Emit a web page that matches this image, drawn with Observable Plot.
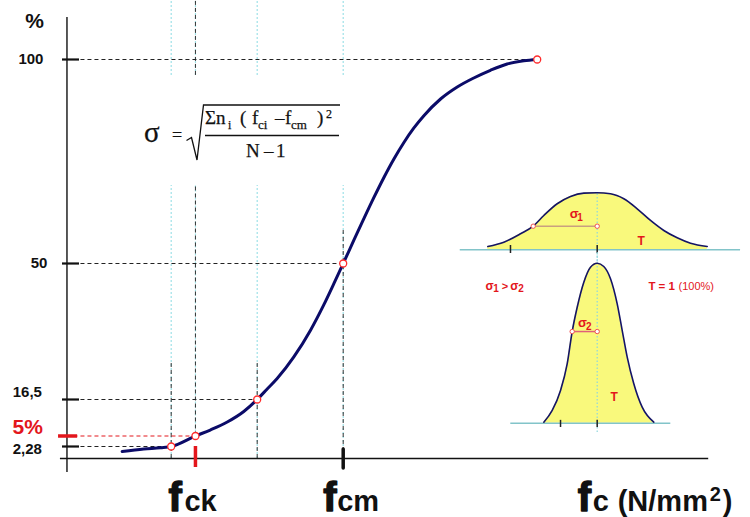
<!DOCTYPE html>
<html>
<head>
<meta charset="utf-8">
<script src="https://cdn.jsdelivr.net/npm/d3@7"></script>
<script src="https://cdn.jsdelivr.net/npm/@observablehq/plot@0.6"></script>
<style>
  html, body { margin: 0; padding: 0; background: #fff; }
  #chart { position: relative; width: 750px; height: 517px; overflow: hidden; background: #fff; }
  #chart > svg { position: absolute; overflow: visible; }
</style>
</head>
<body>
<div id="chart"></div>
<script>
const SANS = "'Liberation Sans', Arial, Helvetica, sans-serif";
const SERIF = "'Liberation Serif', 'Times New Roman', serif";
const NAVY = "#0b0b68", RED = "#e3161c", CYAN = "#9ee2e8", YELLOW = "#f9f97c", BASE = "#82c4c9";

// Cumulative share of results (%) against compressive strength fc (N/mm²)
const fcValues = [17.15, 18.41, 19.38, 20, 21.41, 22.27, 23.26, 24.22, 25, 25.58, 26.16, 27.13,
  28.10, 28.87, 29.45, 30, 30.62, 31.20, 31.78, 32.36, 32.94, 33.52, 34.10, 34.69, 35.66,
  36.63, 37.59, 38.56, 39.53, 40.50, 41.28];
const shareValues = [1.33, 1.80, 2.05, 2.28, 5, 6.89, 9.41, 12.72, 16.5, 19.09, 21.67, 26.99,
  33.57, 39.80, 44.97, 50, 55.71, 60.98, 66.13, 71.03, 75.56, 79.61, 83.16, 86.23, 90.32,
  93.26, 95.47, 97.35, 98.90, 99.68, 100];

// Characteristic points of the curve and their tick labels
const markFc = [20, 21.41, 25, 30, 41.28];
const markShare = [2.28, 5, 16.5, 50, 100];
const markLabels = ["2,28", "5%", "16,5", "50", "100"];

// Named strengths on the abscissa
const fck = 21.41, fcm = 30;

// Axis extents
const axisFc = 13.94, axisFcStart = 13.56, axisFcEnd = 51.25;
const axisShareTop = 110.3, axisShareBottom = -2.66;

// Guide segments: [fc, from %, to %]
const lightGuides = [[20, 96.1, 114.5], [21.41, 96.1, 114.5], [25, 96.1, 114.5], [30, 96.1, 114.5],
  [20, 0, 69.1], [21.41, 5, 69.1], [25, 0, 69.1], [30, 0, 69.1]];
const darkGuides = [[20, 0, 26.1], [25, 0, 26.1], [30, 0, 58.8], [21.41, 5, 69.1], [21.41, 96.1, 114.5]];

// Wide distribution (σ1) and narrow distribution (σ2), x in σ1 units around the mean
const wideX = [-1.709, -1.459, -1.198, -1.0, -0.834, -0.625, -0.417, -0.209, 0, 0.208, 0.416,
  0.625, 0.833, 1.041, 1.25, 1.458, 1.719];
const wideY = [0.023, 0.053, 0.112, 0.165, 0.240, 0.322, 0.373, 0.396, 0.399, 0.392, 0.357,
  0.287, 0.205, 0.135, 0.084, 0.046, 0.023];
const narrowX = [-0.834, -0.703, -0.573, -0.469, -0.391, -0.3125, -0.209, -0.105, 0, 0.103,
  0.208, 0.3125, 0.391, 0.469, 0.572, 0.703, 0.884];
const narrowY = [0.007, 0.089, 0.229, 0.415, 0.641, 0.811, 0.986, 1.091, 1.119, 1.096, 1.010,
  0.835, 0.648, 0.462, 0.276, 0.112, 0.007];
const sigma1 = 1, sigma2 = 0.391;

const curve = fcValues.map((f, i) => ({fc: f, p: shareValues[i]}));
const marks = markFc.map((f, i) => ({fc: f, p: markShare[i], label: markLabels[i], red: markShare[i] === 5}));
const seg = g => g.map(([fc, a, b]) => ({fc, a, b}));

// The share axis is drawn schematically: its low end is stretched
const shareStretch = d3.scaleLinear().domain([0, ...markShare]).range([0, 12, 22.5, 59, 195, 399]);

// share-axis labels: offsets and size
const shareLabelStyle = {
  "100": {dx: -23.5, dy: 0, size: 15}, "50": {dx: -19.5, dy: 0, size: 15},
  "16,5": {dx: -25, dy: -7, size: 15}, "5%": {dx: -24, dy: -8.5, size: 21}, "2,28": {dx: -25, dy: 3, size: 15}
};
// abscissa labels: anchor value, text, size, offsets
const fcLabelParts = [
  {x: fck, t: "f", s: 40, dx: -27, dy: -7}, {x: fck, t: "ck", s: 29, dx: -11, dy: -7},
  {x: fcm, t: "f", s: 40, dx: -20, dy: -7}, {x: fcm, t: "cm", s: 29, dx: -6, dy: -7},
  {x: axisFcEnd, t: "f", s: 40, dx: -131, dy: -7}, {x: axisFcEnd, t: "c", s: 29, dx: -116, dy: -7},
  {x: axisFcEnd, t: "(N/mm", s: 29, dx: -91, dy: -7}, {x: axisFcEnd, t: "2", s: 20, dx: 1, dy: -17},
  {x: axisFcEnd, t: ")", s: 29, dx: 14, dy: -7}
];

const chart = document.getElementById("chart");

const main = Plot.plot({
  width: 750, height: 517, margin: 0,
  style: {background: "transparent", fontFamily: SANS, overflow: "visible"},
  x: {domain: [10, 50], range: [-1.3, 686.7], axis: null},
  y: {transform: shareStretch, domain: [0, 399], range: [458, 59], axis: null},
  marks: [
    Plot.ruleX(seg(lightGuides), {x: "fc", y1: "a", y2: "b", stroke: CYAN, strokeWidth: 1.2, strokeDasharray: "2,2"}),
    Plot.ruleX(seg(darkGuides), {x: "fc", y1: "a", y2: "b", stroke: "#333", strokeWidth: 1, strokeDasharray: "4,3"}),
    Plot.ruleY(marks.filter(d => !d.red), {y: "p", x1: () => axisFc, x2: "fc", stroke: "#222", strokeWidth: 1, strokeDasharray: "4,3"}),
    Plot.ruleY(marks.filter(d => d.red), {y: "p", x1: () => axisFc, x2: "fc", stroke: RED, strokeWidth: 1, strokeDasharray: "4,3"}),
    // axes
    Plot.ruleX([axisFc], {y1: () => axisShareBottom, y2: () => axisShareTop, stroke: "#111", strokeWidth: 1.4}),
    Plot.ruleY([0], {x1: () => axisFcStart, x2: () => axisFcEnd, stroke: "#111", strokeWidth: 1.3}),
    // tick stubs on the share axis
    Plot.ruleY(marks.filter(d => !d.red), {y: "p", x1: () => 13.68, x2: () => 14.67, stroke: "#111", strokeWidth: 2.2}),
    Plot.ruleY(marks.filter(d => d.red), {y: "p", x1: () => 13.45, x2: () => 14.56, stroke: RED, strokeWidth: 3.5}),
    // ticks on the strength axis
    Plot.ruleX([fck], {y1: () => 2.28, y2: () => -1.71, stroke: RED, strokeWidth: 3.5}),
    Plot.ruleX([fcm], {y1: () => 1.71, y2: () => -1.9, stroke: "#111", strokeWidth: 3.5, strokeLinecap: "round"}),
    // cumulative curve
    Plot.line(curve, {x: "fc", y: "p", stroke: NAVY, strokeWidth: 3, curve: "monotone-x"}),
    Plot.dot(marks, {x: "fc", y: "p", r: 3.5, fill: "#fff", stroke: "#ff2a2a", strokeWidth: 1.3}),
    // share labels
    ...marks.map(d => {
      const st = shareLabelStyle[d.label];
      return Plot.text([d], {x: () => axisFc, y: "p", text: "label", textAnchor: "end", lineAnchor: "middle",
        dx: st.dx, dy: st.dy, fontSize: st.size, fontWeight: "bold", fill: d.red ? RED : "#111"});
    }),
    Plot.text(["%"], {x: () => axisFc, y: () => axisShareTop, text: d => d, textAnchor: "end", lineAnchor: "middle",
      dx: -23, dy: 4, fontSize: 21, fontWeight: "bold", fill: "#111"}),
    // strength labels
    ...fcLabelParts.map(p => Plot.text([p], {x: "x", text: "t", frameAnchor: "bottom", lineAnchor: "bottom",
      textAnchor: "start", dx: p.dx, dy: p.dy, fontSize: p.s, fontWeight: "bold", fill: "#111",
      stroke: p.t === "f" ? "#111" : "none", strokeWidth: p.t === "f" ? 1.4 : 0}))
  ]
});
main.style.left = "0px"; main.style.top = "0px";
chart.appendChild(main);

const wide = wideX.map((x, i) => ({x, y: wideY[i]}));
const narrow = narrowX.map((x, i) => ({x, y: narrowY[i]}));
const red = (data, o = {}) => Plot.text(data, {x: "x", y: "y", text: "t", textAnchor: "start", lineAnchor: "middle",
  fill: RED, fontWeight: "bold", fontSize: 12, ...o});

const upper = Plot.plot({
  width: 300, height: 85, margin: 0,
  style: {background: "transparent", fontFamily: SANS, overflow: "visible"},
  x: {domain: [-2, 2], range: [18.7, 274.7], axis: null},
  y: {domain: [0, 0.4], range: [69.3, 12.1], axis: null},
  marks: [
    Plot.areaY(wide, {x: "x", y: "y", fill: YELLOW, curve: "monotone-x"}),
    Plot.ruleY([0], {x1: () => -2.14, x2: () => 2.24, stroke: BASE, strokeWidth: 1.6}),
    Plot.ruleX([0], {y1: () => -0.11, y2: () => 0.4, stroke: "#8fd6dc", strokeWidth: 1.2, strokeDasharray: "1.5,2"}),
    Plot.line(wide, {x: "x", y: "y", stroke: "#141466", strokeWidth: 1.6, curve: "monotone-x"}),
    Plot.ruleX([-1.355, 0], {y1: () => -0.026, y2: () => 0.03, stroke: "#222", strokeWidth: 1.5}),
    Plot.ruleY([0.165], {x1: () => -sigma1, x2: () => 0, stroke: "#c9a07f", strokeWidth: 1.5}),
    Plot.dot([-sigma1, 0], {x: d => d, y: () => 0.165, r: 2.2, fill: "#fff", stroke: "#f05050", strokeWidth: 1}),
    red([{x: -0.43, y: 0.25, t: "σ"}], {fontSize: 13}),
    red([{x: -0.31, y: 0.225, t: "1"}], {fontSize: 10}),
    red([{x: 0.63, y: 0.062, t: "T"}], {fontSize: 12})
  ]
});
upper.style.left = "450px"; upper.style.top = "180px";
chart.appendChild(upper);

const lower = Plot.plot({
  width: 300, height: 190, margin: 0,
  style: {background: "transparent", fontFamily: SANS, overflow: "visible"},
  x: {domain: [-2, 2], range: [18.7, 274.7], axis: null},
  y: {domain: [0, 1.2], range: [172.7, 1.1], axis: null},
  marks: [
    Plot.areaY(narrow, {x: "x", y: "y", fill: YELLOW, curve: "monotone-x"}),
    Plot.ruleY([0], {x1: () => -1.35, x2: () => 1.15, stroke: BASE, strokeWidth: 1.6}),
    Plot.ruleX([0], {y1: () => -0.065, y2: () => 1.2, stroke: "#8fd6dc", strokeWidth: 1.2, strokeDasharray: "1.5,2"}),
    Plot.line(narrow, {x: "x", y: "y", stroke: "#141466", strokeWidth: 1.6, curve: "monotone-x"}),
    Plot.ruleX([-0.573, 0], {y1: () => -0.03, y2: () => 0.02, stroke: "#222", strokeWidth: 1.5}),
    Plot.ruleY([0.641], {x1: () => -sigma2, x2: () => 0, stroke: "#e0607a", strokeWidth: 1.5}),
    Plot.dot([-sigma2, 0], {x: d => d, y: () => 0.641, r: 2.2, fill: "#fff", stroke: "#f05050", strokeWidth: 1}),
    red([{x: -0.30, y: 0.70, t: "σ"}], {fontSize: 13}),
    red([{x: -0.175, y: 0.675, t: "2"}], {fontSize: 10}),
    red([{x: 0.208, y: 0.185, t: "T"}], {fontSize: 12}),
    red([{x: -1.745, y: 0.956, t: "σ"}, {x: -1.36, y: 0.956, t: "σ"}], {fontSize: 12}),
    red([{x: -1.625, y: 0.938, t: "1"}, {x: -1.235, y: 0.938, t: "2"}], {fontSize: 10}),
    red([{x: -1.49, y: 0.956, t: ">"}], {fontSize: 11}),
    red([{x: 0.80, y: 0.956, t: "T = 1"}], {fontSize: 11.5}),
    red([{x: 1.27, y: 0.956, t: "(100%)"}], {fontSize: 11, fontWeight: "normal"})
  ]
});
lower.style.left = "450px"; lower.style.top = "250px";
chart.appendChild(lower);

// standard deviation formula
chart.insertAdjacentHTML("beforeend", `
<svg width="750" height="517" style="left:0;top:0" font-family="${SERIF}" fill="#111" stroke="#111" stroke-width="0.25">
  <text x="144" y="142" font-size="29">σ</text>
  <text x="172" y="141" font-size="18">=</text>
  <path d="M186.5,140.5 L191.5,137.5 L197,160 L203.5,105 L340,105" fill="none" stroke="#111" stroke-width="1.3"/>
  <text font-size="19">
    <tspan x="205" y="124">Σ</tspan><tspan x="216" y="124">n</tspan><tspan x="228" y="129" font-size="12">i</tspan><tspan x="240" y="124">(</tspan><tspan x="252" y="124">f</tspan><tspan x="258" y="129" font-size="13">ci</tspan><tspan x="275" y="124">–</tspan><tspan x="285" y="124">f</tspan><tspan x="291" y="129" font-size="13">cm</tspan><tspan x="317" y="124">)</tspan><tspan x="326" y="118" font-size="12">2</tspan>
  </text>
  <line x1="205" y1="135.5" x2="339" y2="135.5" stroke="#111" stroke-width="1.3"/>
  <text font-size="19"><tspan x="246" y="157">N</tspan><tspan x="264" y="157">–</tspan><tspan x="276" y="157">1</tspan></text>
</svg>`);
</script>
</body>
</html>
